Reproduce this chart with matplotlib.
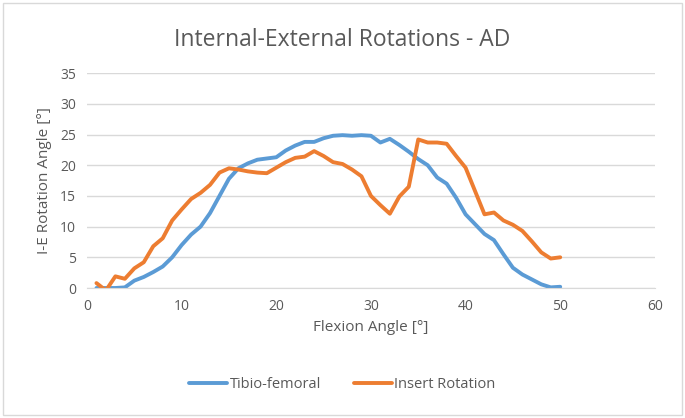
import matplotlib.pyplot as plt
from matplotlib.patches import Rectangle

# Flexion angle [deg] and I-E rotation [deg]
flexion = list(range(1, 51))
tibio_femoral = [0.0, 0.0, 0.0, 0.1, 1.2, 1.8, 2.6, 3.5, 5.0, 7.0,
                 8.7, 10.0, 12.2, 15.0, 17.8, 19.5, 20.3, 20.9, 21.1, 21.3,
                 22.4, 23.2, 23.8, 23.8, 24.4, 24.8, 24.9, 24.8, 24.9, 24.8,
                 23.7, 24.3, 23.3, 22.2, 21.0, 20.0, 18.0, 17.0, 14.7, 12.0,
                 10.4, 8.8, 7.8, 5.5, 3.3, 2.2, 1.4, 0.6, 0.1, 0.2]
insert_rotation = [0.8, -0.4, 1.9, 1.5, 3.2, 4.2, 6.8, 8.1, 11.0, 12.8,
                   14.5, 15.5, 16.8, 18.8, 19.5, 19.3, 19.0, 18.8, 18.7, 19.6,
                   20.5, 21.2, 21.4, 22.3, 21.5, 20.5, 20.2, 19.3, 18.2, 15.0,
                   13.5, 12.1, 14.9, 16.5, 24.2, 23.7, 23.7, 23.5, 21.5, 19.6,
                   15.8, 12.0, 12.3, 11.0, 10.3, 9.3, 7.6, 5.8, 4.8, 5.0]

x_ticks = [0, 10, 20, 30, 40, 50, 60]
y_ticks = [0, 5, 10, 15, 20, 25, 30, 35]

grey = '#595959'
grid_c = '#d9d9d9'
plt.rcParams['font.family'] = ['Open Sans', 'DejaVu Sans']

fig = plt.figure(figsize=(6.85, 4.18), dpi=100)
ax = fig.add_axes([0.127, 0.311, 0.829, 0.514])

ax.plot(flexion, tibio_femoral, color='#5b9bd5', lw=2.8, label='Tibio-femoral',
        solid_joinstyle='round', solid_capstyle='round')
ax.plot(flexion, insert_rotation, color='#ed7d31', lw=2.8, label='Insert Rotation',
        solid_joinstyle='round', solid_capstyle='round')

ax.set_xlim(0, 60)
ax.set_ylim(0, 35)
ax.set_xticks(x_ticks)
ax.set_yticks(y_ticks)
ax.tick_params(length=0, labelsize=10, colors=grey, pad=8)
ax.grid(axis='y', color=grid_c, lw=1)
ax.set_axisbelow(True)
for s in ['top', 'right', 'left']:
    ax.spines[s].set_visible(False)
ax.spines['bottom'].set_color(grid_c)

ax.set_xlabel('Flexion Angle [°]', fontsize=11, color=grey, labelpad=4)
ax.set_ylabel('I-E Rotation Angle [°]', fontsize=11, color=grey, labelpad=6)
fig.text(0.5, 0.905, 'Internal-External Rotations - AD', ha='center', va='center',
         fontsize=16.5, color=grey)

fig.legend(loc='center', bbox_to_anchor=(0.5, 0.08), ncol=2, frameon=False,
           fontsize=10.5, labelcolor=grey, handlelength=2.6, handletextpad=0.2,
           columnspacing=2.2)

fig.patches.append(Rectangle((0.005, 0.008), 0.99, 0.985, transform=fig.transFigure,
                             fill=False, edgecolor=grid_c, lw=1))

fig.savefig('out.png', dpi=100)
